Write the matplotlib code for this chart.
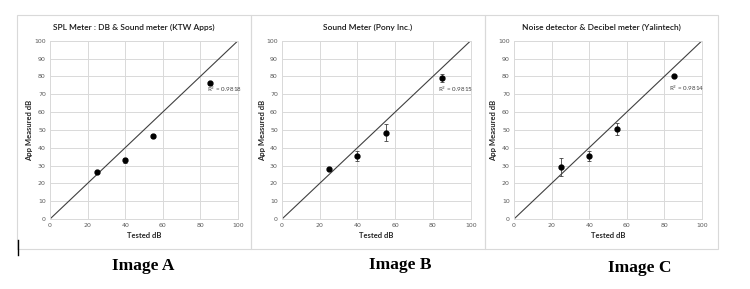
import numpy as np
import matplotlib
matplotlib.use('Agg')
import matplotlib.pyplot as plt
from matplotlib.patches import Rectangle

tested = [25, 40, 55, 85]

titles = ['SPL Meter : DB & Sound meter (KTW Apps)',
          'Sound Meter (Pony Inc.)',
          'Noise detector & Decibel meter (Yalintech)']
measured_a = [26.4, 32.9, 46.7, 76.1]
err_a = [0.6, 1.5, 1.0, 0.8]
measured_b = [28.2, 35.3, 48.4, 78.9]
err_b = [0.5, 3.0, 4.7, 2.2]
measured_c = [29.0, 35.3, 50.5, 80.0]
err_c = [5.0, 2.8, 3.5, 0.5]
r2 = ['0.9818', '0.9815', '0.9814']
r2_pos = [(83.5, 71.5), (82.8, 71.5), (82.4, 72.0)]
captions = ['Image A', 'Image B', 'Image C']

measured = [measured_a, measured_b, measured_c]
errs = [err_a, err_b, err_c]

W, H = 750, 289
fig = plt.figure(figsize=(7.5, 2.89), dpi=100)

# pixel layout (left, right) of plot areas and chart boxes
plot_x = [(50, 238), (282, 470.7), (514, 702)]
box_x = [(17, 251), (251, 485), (485, 718)]
ylab_x = [30, 263, 494]
cap_pos = [(143, 266), (400, 265), (640, 268)]
top, bot = 40.7, 219

for i in range(3):
    x0, x1 = box_x[i]
    fig.add_artist(Rectangle((x0 / W, 1 - 249 / H), (x1 - x0) / W, (249 - 15) / H,
                             transform=fig.transFigure, fill=False,
                             edgecolor='#d9d9d9', linewidth=0.8))
    px0, px1 = plot_x[i]
    ax = fig.add_axes([px0 / W, 1 - bot / H, (px1 - px0) / W, (bot - top) / H])
    ax.set_xlim(0, 100)
    ax.set_ylim(0, 100)
    ax.set_xticks(range(0, 101, 20))
    ax.set_yticks(range(0, 101, 10))
    ax.grid(True, color='#d9d9d9', linewidth=0.7)
    ax.set_axisbelow(True)
    for s in ax.spines.values():
        s.set_color('#d9d9d9')
        s.set_linewidth(0.7)
    ax.tick_params(length=0, labelsize=4.5, colors='#595959', pad=3)
    ax.plot([0, 100], [0, 100], color='#404040', linewidth=0.8)
    ax.errorbar(tested, measured[i], yerr=errs[i], fmt='o', color='black',
                markersize=3.5, ecolor='#404040', elinewidth=0.6, capsize=1.5,
                capthick=0.6)
    ax.text(r2_pos[i][0], r2_pos[i][1], 'R$^2$ = ' + r2[i], fontsize=4.5,
            color='#404040', family='Lato')
    ax.set_xlabel('Tested dB', fontsize=5.5, fontweight='bold', family='Lato',
                  color='#262626', labelpad=3)
    fig.text((x0 + x1) / 2 / W, 1 - 27 / H, titles[i], ha='center', va='center',
             fontsize=6.0, family='Lato', fontweight='semibold', color='#1a1a1a')
    fig.text(ylab_x[i] / W, 1 - 130 / H, 'App Measured dB', rotation=90,
             ha='center', va='center', fontsize=5.5, fontweight='bold',
             family='Lato', color='#262626')
    fig.text(cap_pos[i][0] / W, 1 - cap_pos[i][1] / H, captions[i], ha='center',
             va='center', fontsize=12.5, fontweight='bold', family='Liberation Serif')

fig.add_artist(plt.Line2D([18 / W, 18 / W], [1 - 240 / H, 1 - 255 / H],
                          transform=fig.transFigure, color='black', linewidth=1))

fig.savefig('out.png', dpi=100)
